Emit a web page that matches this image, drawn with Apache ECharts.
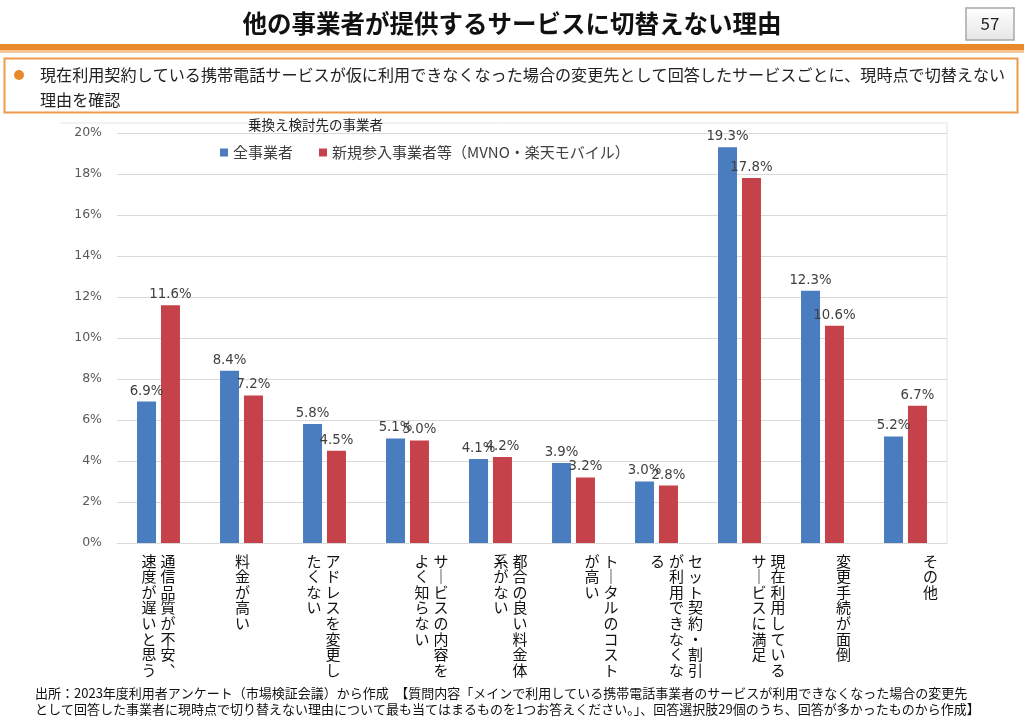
<!DOCTYPE html>
<html><head><meta charset="utf-8">
<script src="https://cdn.jsdelivr.net/npm/echarts@6/dist/echarts.min.js"></script>
<style>html,body{margin:0;padding:0;background:#fff}#c{width:1024px;height:718px}</style>
</head><body><div id="c"></div>
<script>
// ---------- data ----------
const pageTitle = '他の事業者が提供するサービスに切替えない理由';
const pageNumber = '57';
const noteLines = [
  '現在利用契約している携帯電話サービスが仮に利用できなくなった場合の変更先として回答したサービスごとに、現時点で切替えない',
  '理由を確認'
];
const legendTitle = '乗換え検討先の事業者';
const seriesNames = ['全事業者', '新規参入事業者等（MVNO・楽天モバイル）'];
const categories = [
  '通信品質が不安、\n速度が遅いと思う',
  '料金が高い',
  'アドレスを変更し\nたくない',
  'サービスの内容を\nよく知らない',
  '都合の良い料金体\n系がない',
  'トータルのコスト\nが高い',
  'セット契約・割引\nが利用できなくな\nる',
  '現在利用している\nサービスに満足',
  '変更手続が面倒',
  'その他'
];
const allCarriers = [6.9, 8.4, 5.8, 5.1, 4.1, 3.9, 3.0, 19.3, 12.3, 5.2];
const newEntrants = [11.6, 7.2, 4.5, 5.0, 4.2, 3.2, 2.8, 17.8, 10.6, 6.7];
const yMax = 20;
const yStep = 2;
const footerLines = [
  '出所：2023年度利用者アンケート（市場検証会議）から作成　【質問内容「メインで利用している携帯電話事業者のサービスが利用できなくなった場合の変更先',
  'として回答した事業者に現時点で切り替えない理由について最も当てはまるものを1つお答えください。」、回答選択肢29個のうち、回答が多かったものから作成】'
];

// ---------- layout / style ----------
const FONT = '"Noto Sans CJK JP", "Noto Sans", sans-serif';
const NUMFONT = '"DejaVu Sans", "Noto Sans", sans-serif';
const labelShift = [0, 1, -1, 24, 20, 28, 20, 29, 21, 25];
const VERT = {'ー': '｜', '、': '︑'};

const rich = {
  c: {fontSize: 15, lineHeight: 15.6, width: 19, align: 'center', color: '#111', fontFamily: FONT}
};
labelShift.forEach((s, i) => {
  rich['s' + i] = {width: Math.max(1, Math.abs(s) * 2), fontSize: 15, lineHeight: 15.6};
});

function verticalLabel(value, idx) {
  const cols = String(value).split('\n').reverse(); // leftmost column first
  const n = Math.max.apply(null, cols.map(c => c.length));
  const shift = labelShift[idx] || 0;
  const rows = [];
  for (let i = 0; i < n; i++) {
    let r = '';
    cols.forEach(c => {
      const ch = c[i] ? (VERT[c[i]] || c[i]) : '　';
      r += '{c|' + ch + '}';
    });
    if (shift > 0) r = '{s' + idx + '|　}' + r;
    else if (shift < 0) r = r + '{s' + idx + '|　}';
    rows.push(r);
  }
  return rows.join('\n');
}

const chart = echarts.init(document.getElementById('c'), null, {renderer: 'canvas'});
const valueLabel = {
  show: true, position: 'top', distance: 4,
  color: '#404040', fontSize: 13.3, fontFamily: NUMFONT,
  formatter: p => p.value.toFixed(1) + '%'
};

chart.setOption({
  animation: false,
  backgroundColor: '#fff',
  textStyle: {fontFamily: FONT},
  grid: {left: 117, right: 77, top: 133, bottom: 175, containLabel: false},
  legend: {
    data: seriesNames, left: 215, top: 140, icon: 'rect',
    itemWidth: 8, itemHeight: 8, itemGap: 26,
    textStyle: {fontSize: 15, color: '#404040', fontFamily: FONT}
  },
  xAxis: {
    type: 'category', data: categories,
    axisLine: {lineStyle: {color: '#D9D9D9'}},
    axisTick: {show: false},
    axisLabel: {interval: 0, margin: 10, formatter: verticalLabel, rich: rich, color: '#111'}
  },
  yAxis: {
    type: 'value', min: 0, max: yMax, interval: yStep,
    axisLine: {show: false}, axisTick: {show: false},
    axisLabel: {formatter: '{value}%', color: '#595959', fontSize: 12.5, margin: 15, fontFamily: NUMFONT},
    splitLine: {lineStyle: {color: '#D9D9D9'}}
  },
  series: [
    {name: seriesNames[0], type: 'bar', data: allCarriers, barWidth: 19, barGap: '26%',
     itemStyle: {color: '#4A7CC0'}, label: valueLabel},
    {name: seriesNames[1], type: 'bar', data: newEntrants, barWidth: 19,
     itemStyle: {color: '#C6424A'}, label: valueLabel}
  ],
  graphic: [
    // chart frame (faint)
    {type: 'line', shape: {x1: 60, y1: 123, x2: 947, y2: 123}, style: {stroke: '#E4E4E4', lineWidth: 1}},
    {type: 'line', shape: {x1: 947, y1: 123, x2: 947, y2: 543}, style: {stroke: '#E4E4E4', lineWidth: 1}},
    // title
    {type: 'text', left: 'center', top: 11, style: {text: pageTitle, fontSize: 24.5, fontWeight: 'bold', fill: '#111', fontFamily: FONT}},
    // page number box
    {type: 'rect', shape: {x: 966, y: 8, width: 48, height: 32},
     style: {fill: new echarts.graphic.LinearGradient(0, 0, 0, 1, [{offset: 0, color: '#ffffff'}, {offset: 1, color: '#e6e6e6'}]), stroke: '#A8A8A8', lineWidth: 1.5}},
    {type: 'text', x: 990, y: 24, style: {text: pageNumber, fontSize: 17, fill: '#222', align: 'center', verticalAlign: 'middle', fontFamily: FONT}},
    // orange bars
    {type: 'rect', shape: {x: 0, y: 44, width: 1024, height: 6}, style: {fill: '#E8892B'}},
    {type: 'rect', shape: {x: 0, y: 50, width: 1024, height: 3}, style: {fill: '#F6C796'}},
    // note box
    {type: 'rect', shape: {x: 4.5, y: 58.5, width: 1013, height: 54}, style: {fill: '#fff', stroke: '#EE9A4A', lineWidth: 2}},
    {type: 'circle', shape: {cx: 19, cy: 75, r: 5}, style: {fill: '#E8892B'}},
    {type: 'text', x: 40, y: 75, style: {text: noteLines[0], fontSize: 16.1, fill: '#222', verticalAlign: 'middle', fontFamily: FONT}},
    {type: 'text', x: 40, y: 100, style: {text: noteLines[1], fontSize: 16.1, fill: '#222', verticalAlign: 'middle', fontFamily: FONT}},
    // legend title
    {type: 'text', x: 248, y: 125, style: {text: legendTitle, fontSize: 13.5, fill: '#222', verticalAlign: 'middle', fontFamily: FONT}},
    // footer
    {type: 'text', x: 35, y: 693, style: {text: footerLines[0], fontSize: 13, fill: '#111', verticalAlign: 'middle', fontFamily: FONT}},
    {type: 'text', x: 35, y: 709, style: {text: footerLines[1], fontSize: 13, fill: '#111', verticalAlign: 'middle', fontFamily: FONT}}
  ]
});
</script>
</body></html>
